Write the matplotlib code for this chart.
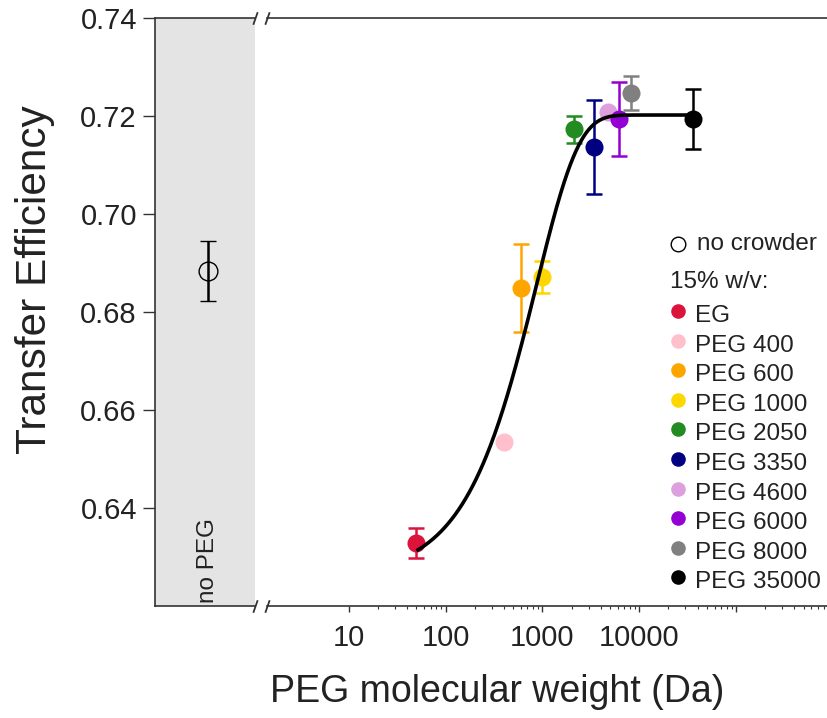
import numpy as np
import matplotlib
matplotlib.use("Agg")
import matplotlib.pyplot as plt
from matplotlib.ticker import FixedLocator, FixedFormatter, NullFormatter

plt.rcParams['font.family'] = ['Liberation Sans', 'DejaVu Sans']

# ---- data -------------------------------------------------------------
labels = ['EG', 'PEG 400', 'PEG 600', 'PEG 1000', 'PEG 2050', 'PEG 3350',
          'PEG 4600', 'PEG 6000', 'PEG 8000', 'PEG 35000']
mol_weight = [50, 400, 600, 1000, 2100, 3400, 4700, 6200, 8300, 36000]
efficiency = [0.6329, 0.6535, 0.6849, 0.6872, 0.7173, 0.7137,
              0.7208, 0.7194, 0.7247, 0.7194]
efficiency_err = [0.0031, 0.0, 0.0089, 0.0033, 0.0028, 0.0096,
                  0.0, 0.0075, 0.0034, 0.0061]
colors = ['#DC143C', '#FFC0CB', '#FFA500', '#FFD700', '#228B22', '#000080',
          '#DDA0DD', '#9400D3', '#808080', '#000000']

no_crowder = 0.6884
no_crowder_err = 0.0061

# single-exponential saturation fit in molecular weight
fit_plateau = 0.7202
fit_start = 0.626
fit_scale = 870.0

y_ticks = [0.64, 0.66, 0.68, 0.70, 0.72, 0.74]
y_tick_labels = ['0.64', '0.66', '0.68', '0.70', '0.72', '0.74']
x_major = [10, 100, 1000, 10000, 100000]
x_major_labels = ['10', '100', '1000', '10000', '']

# ---- figure -----------------------------------------------------------
W, H = 828, 718
fig = plt.figure(figsize=(W / 100, H / 100), dpi=100)

spine_col = '#333333'
text_col = '#222222'

def fx(px):
    return px / W

def fy(py):
    return 1 - py / H

top_px, bot_px = 18, 606
ax_l = fig.add_axes([fx(155), fy(bot_px), fx(255) - fx(155), (bot_px - top_px) / H])
ax_r = fig.add_axes([fx(267), fy(bot_px), fx(828) - fx(267), (bot_px - top_px) / H])

ylim = (0.62, 0.74)
for ax in (ax_l, ax_r):
    ax.set_ylim(*ylim)
    for s in ax.spines.values():
        s.set_color(spine_col)
        s.set_linewidth(1.2)

# left panel: no crowder
ax_l.set_facecolor('#e4e4e4')
ax_l.set_xlim(0, 1)
ax_l.spines['right'].set_visible(False)
ax_l.set_xticks([])
ax_l.set_yticks(y_ticks)
ax_l.set_yticklabels(y_tick_labels)
ax_l.tick_params(axis='y', length=9, width=1.0, color=spine_col,
                 labelsize=21, labelcolor=text_col, pad=4)
ax_l.errorbar([0.53], [no_crowder], yerr=[no_crowder_err], fmt='o',
              mfc='none', mec='black', mew=1.0, ms=13.5, color='black',
              elinewidth=1.8, capsize=5.5, capthick=1.8, zorder=3)
ax_l.text(0.53, 0.6293, 'no PEG', rotation=90, ha='center', va='center',
          fontsize=17.5, color=text_col)

# right panel: PEG series
ax_r.set_xscale('log')
ax_r.set_xlim(1.43, 8.9e5)
ax_r.spines['left'].set_visible(False)
ax_r.spines['right'].set_visible(False)
ax_r.set_yticks([])
ax_r.xaxis.set_major_locator(FixedLocator(x_major))
ax_r.xaxis.set_major_formatter(FixedFormatter(x_major_labels))
minor = [m * 10 ** k for k in range(1, 6) for m in range(2, 10)]
ax_r.xaxis.set_minor_locator(FixedLocator(minor))
ax_r.xaxis.set_minor_formatter(NullFormatter())
ax_r.tick_params(axis='x', which='major', length=4, width=1.0, color=spine_col,
                 labelsize=21, labelcolor=text_col, pad=9)
ax_r.tick_params(axis='x', which='minor', length=2.5, width=0.8, color=spine_col)

for x, y, e, c in zip(mol_weight, efficiency, efficiency_err, colors):
    ax_r.errorbar([x], [y], yerr=[e], fmt='none', ecolor=c,
                  elinewidth=1.8, capsize=5.5, capthick=1.8, zorder=3)
    ax_r.plot([x], [y], 'o', color=c, ms=13, mew=0, zorder=3.5)

xf = np.logspace(np.log10(mol_weight[0]), np.log10(mol_weight[-1]), 400)
yf = fit_plateau - (fit_plateau - fit_start) * np.exp(-xf / fit_scale)
ax_r.plot(xf, yf, color='black', lw=2.6, zorder=4, solid_capstyle='butt')

# axis-break slashes
slash = [(-0.35, -1), (0.35, 1)]
for ax, xpos in ((ax_l, 1), (ax_r, 0)):
    ax.plot([xpos, xpos], [0, 1], transform=ax.transAxes, marker=slash,
            markersize=9, linestyle='none', color=spine_col, mec=spine_col,
            mew=1.3, clip_on=False, zorder=5)

# legend
leg_x_marker = 678
leg_x_text = 697
ax_r.plot([fx(leg_x_marker)], [fy(244)], transform=fig.transFigure, marker='o',
          ms=10.5, mfc='none', mec='black', mew=1.0, clip_on=False)
fig.text(fx(leg_x_text), fy(244), 'no crowder', fontsize=17.5, color=text_col,
         ha='left', va='center')
fig.text(fx(670), fy(282), '15% w/v:', fontsize=17.5, color=text_col,
         ha='left', va='center')
row0, step = 313, 29.6
for i, (lab, c) in enumerate(zip(labels, colors)):
    yy = row0 + i * step
    ax_r.plot([fx(leg_x_marker)], [fy(yy - 2)], transform=fig.transFigure,
              marker='o', ms=10.5, color=c, mew=0, clip_on=False)
    fig.text(fx(leg_x_text - 2), fy(yy + 3), lab, fontsize=17.5, color=text_col,
             ha='left', va='center')

fig.text(fx(35), fy(280), 'Transfer Efficiency', rotation=90, fontsize=30.5,
         color=text_col, ha='center', va='center')
fig.text(fx(497), fy(692), 'PEG molecular weight (Da)', fontsize=27,
         color=text_col, ha='center', va='center')

fig.savefig('out.png', dpi=100)
